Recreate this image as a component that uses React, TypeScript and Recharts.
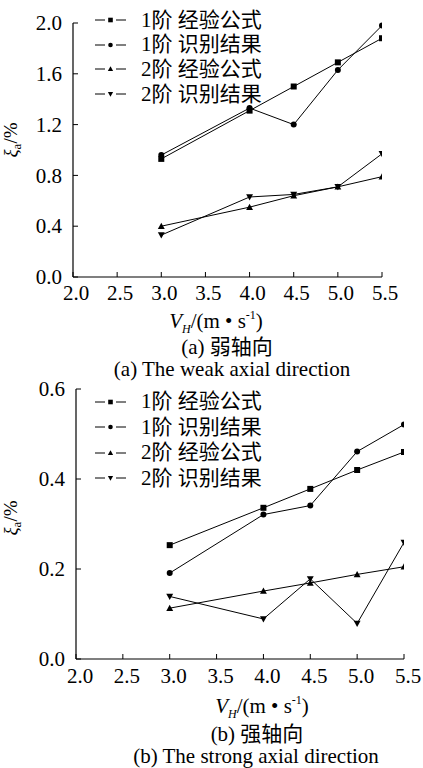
import React from 'react';
import { LineChart, Line, XAxis, YAxis, Legend } from 'recharts';

// Wind speed V_H (m/s) at which damping was evaluated
const speeds = [3.0, 4.0, 4.5, 5.0, 5.5];

const seriesNames = ['1阶 经验公式', '1阶 识别结果', '2阶 经验公式', '2阶 识别结果'];

// (a) weak axial direction, damping ratio (%)
const weakMode1Formula = [0.93, 1.31, 1.5, 1.69, 1.88];
const weakMode1Identified = [0.96, 1.33, 1.2, 1.63, 1.98];
const weakMode2Formula = [0.4, 0.55, 0.64, 0.71, 0.79];
const weakMode2Identified = [0.33, 0.63, 0.65, 0.71, 0.97];

// (b) strong axial direction, damping ratio (%)
const strongMode1Formula = [0.253, 0.336, 0.378, 0.42, 0.46];
const strongMode1Identified = [0.191, 0.321, 0.341, 0.461, 0.521];
const strongMode2Formula = [0.113, 0.151, 0.169, 0.188, 0.205];
const strongMode2Identified = [0.139, 0.089, 0.178, 0.079, 0.259];

const xTicks = [2.0, 2.5, 3.0, 3.5, 4.0, 4.5, 5.0, 5.5];
const weakYTicks = [0, 0.4, 0.8, 1.2, 1.6, 2.0];
const strongYTicks = [0, 0.2, 0.4, 0.6];

const FONT = "'Liberation Serif', 'Times New Roman', 'Noto Sans CJK SC', serif";
const FS = 21;

type Shape = 'square' | 'circle' | 'up' | 'down';
const seriesKeys = ['s0', 's1', 's2', 's3'];
const seriesShapes: Shape[] = ['square', 'circle', 'up', 'down'];

function buildRows(cols: number[][]) {
  return speeds.map((v, i) => {
    const row: Record<string, number> = { v };
    cols.forEach((c, k) => {
      row[seriesKeys[k]] = c[i];
    });
    return row;
  });
}

const weakRows = buildRows([weakMode1Formula, weakMode1Identified, weakMode2Formula, weakMode2Identified]);
const strongRows = buildRows([strongMode1Formula, strongMode1Identified, strongMode2Formula, strongMode2Identified]);

function Marker({ shape, cx, cy, size }: { shape: Shape; cx: number; cy: number; size: number }) {
  const h = size / 2;
  if (shape === 'square') return <rect x={cx - h} y={cy - h} width={size} height={size} fill="#000" />;
  if (shape === 'circle') return <circle cx={cx} cy={cy} r={h} fill="#000" />;
  const t = h * 1.15;
  if (shape === 'up')
    return <polygon points={`${cx},${cy - t} ${cx - t},${cy + t * 0.8} ${cx + t},${cy + t * 0.8}`} fill="#000" />;
  return <polygon points={`${cx},${cy + t} ${cx - t},${cy - t * 0.8} ${cx + t},${cy - t * 0.8}`} fill="#000" />;
}

const textStyle: React.CSSProperties = { fontFamily: FONT };

const makeYTick = (props: any) => {
  const { x, y, payload } = props;
  const ax = x + 11;
  return (
    <g>
      <line x1={ax} x2={ax + 5} y1={y} y2={y} stroke="#000" strokeWidth={1} />
      <text x={x} y={y} dy="0.34em" textAnchor="end" style={textStyle} fontSize={FS} fill="#000">
        {Number(payload.value).toFixed(1)}
      </text>
    </g>
  );
};

const makeXTick = (baseline: number, dx: number) => (props: any) => {
  const { x, y, payload } = props;
  return (
    <g>
      <line x1={x} x2={x} y1={y} y2={y - 5} stroke="#000" strokeWidth={1} />
      <text x={x + dx} y={y + baseline} textAnchor="middle" style={textStyle} fontSize={FS} fill="#000">
        {Number(payload.value).toFixed(1)}
      </text>
    </g>
  );
};

const makeXTitle = (cx: number, baselineOffset: number) => (props: any) => {
  const vb = props.viewBox || {};
  const y = (vb.y || 0) + baselineOffset;
  return (
    <text x={cx} y={y} textAnchor="middle" style={textStyle} fontSize={FS} fill="#000">
      <tspan fontStyle="italic">V</tspan>
      <tspan fontStyle="italic" fontSize={12} dy={5}>H</tspan>
      <tspan dy={-5}>/(m • s</tspan>
      <tspan fontSize={12} dy={-9}>-1</tspan>
      <tspan dy={9}>)</tspan>
    </text>
  );
};

const makeYTitle = (cy: number) => () => {
  const x = 17;
  return (
    <text
      x={x}
      y={cy}
      transform={`rotate(-90 ${x} ${cy})`}
      textAnchor="middle"
      style={textStyle}
      fontSize={19}
      fill="#000"
    >
      <tspan fontStyle="italic">ξ</tspan>
      <tspan fontSize={13} dy={4}>a</tspan>
      <tspan dy={-4}>/%</tspan>
    </text>
  );
};

const renderLegend = (rowH: number) => (props: any) => {
  const payload = props.payload || [];
  return (
    <div style={{ fontFamily: FONT, fontSize: FS, color: '#000', lineHeight: `${rowH}px` }}>
      {payload.map((entry: any) => {
        const k = seriesKeys.indexOf(entry.dataKey);
        return (
          <div key={entry.dataKey} style={{ display: 'flex', alignItems: 'center', height: rowH }}>
            <svg width={35} height={12} style={{ display: 'block' }}>
              <line x1={2} x2={12} y1={6} y2={6} stroke="#000" strokeWidth={1} />
              <Marker shape={seriesShapes[k]} cx={17.5} cy={6} size={4.6} />
              <line x1={23} x2={33} y1={6} y2={6} stroke="#000" strokeWidth={1} />
            </svg>
            <span style={{ marginLeft: 13, whiteSpace: 'pre' }}>{entry.value}</span>
          </div>
        );
      })}
    </div>
  );
};

type PanelProps = {
  rows: Record<string, number>[];
  yDomain: [number, number];
  yTicks: number[];
  top: number;
  height: number;
  margin: { top: number; right: number; bottom: number; left: number };
  tickBaseline: number;
  tickDx: number;
  xTitleCx: number;
  xTitleOffset: number;
  yTitleCy: number;
  legendTop: number;
  legendRowH: number;
};

function Panel(p: PanelProps) {
  return (
    <div style={{ position: 'absolute', left: 0, top: p.top }}>
      <LineChart width={423} height={p.height} data={p.rows} margin={p.margin} style={textStyle}>
        <XAxis
          dataKey="v"
          type="number"
          domain={[2, 5.5]}
          ticks={xTicks}
          allowDataOverflow
          height={30}
          tickSize={0}
          tickMargin={0}
          tickLine={false}
          axisLine={{ stroke: '#000', strokeWidth: 1.2 }}
          tick={makeXTick(p.tickBaseline, p.tickDx)}
          interval={0}
          label={makeXTitle(p.xTitleCx, p.xTitleOffset)}
        />
        <YAxis
          type="number"
          domain={p.yDomain}
          ticks={p.yTicks}
          width={60}
          tickSize={0}
          tickMargin={11}
          tickLine={false}
          axisLine={{ stroke: '#000', strokeWidth: 1.2 }}
          tick={makeYTick}
          interval={0}
          label={makeYTitle(p.yTitleCy)}
        />
        <Legend
          layout="vertical"
          align="center"
          verticalAlign="middle"
          content={renderLegend(p.legendRowH)}
          wrapperStyle={{ position: 'absolute', left: 93, top: p.legendTop, width: 200, height: p.legendRowH * 4 }}
        />
        {seriesKeys.map((key, k) => (
          <Line
            key={key}
            dataKey={key}
            name={seriesNames[k]}
            stroke="#000"
            strokeWidth={1}
            isAnimationActive={false}
            dot={(d: any) => (
              <Marker key={`${key}-${d.index}`} shape={seriesShapes[k]} cx={d.cx} cy={d.cy} size={6} />
            )}
            activeDot={false}
          />
        ))}
      </LineChart>
    </div>
  );
}

const captionStyle = (cx: number, cy: number): React.CSSProperties => ({
  position: 'absolute',
  left: cx - 200,
  width: 400,
  top: cy - 10,
  height: 20,
  lineHeight: '20px',
  textAlign: 'center',
  fontFamily: FONT,
  fontSize: FS,
  color: '#000',
  whiteSpace: 'pre',
});

export default function App() {
  return (
    <div
      style={{
        position: 'fixed',
        left: 0,
        top: 0,
        width: 423,
        height: 768,
        background: '#fff',
        overflow: 'hidden',
      }}
    >
      <Panel
        rows={weakRows}
        yDomain={[0, 2]}
        yTicks={weakYTicks}
        top={0}
        height={340}
        margin={{ top: 23, right: 41, bottom: 33, left: 13 }}
        tickBaseline={23}
        tickDx={3}
        xTitleCx={216}
        xTitleOffset={51}
        yTitleCy={140}
        legendTop={7.5}
        legendRowH={24.7}
      />
      <div style={captionStyle(227, 347)}>(a) 弱轴向</div>
      <div style={captionStyle(232, 369)}>(a) The weak axial direction</div>

      <Panel
        rows={strongRows}
        yDomain={[0, 0.6]}
        yTicks={strongYTicks}
        top={360}
        height={390}
        margin={{ top: 29, right: 19, bottom: 61, left: 16 }}
        tickBaseline={24}
        tickDx={4}
        xTitleCx={262}
        xTitleOffset={54}
        yTitleCy={158}
        legendTop={29}
        legendRowH={25.5}
      />
      <div style={captionStyle(257, 734)}>(b) 强轴向</div>
      <div style={captionStyle(256, 756)}>(b) The strong axial direction</div>
    </div>
  );
}
